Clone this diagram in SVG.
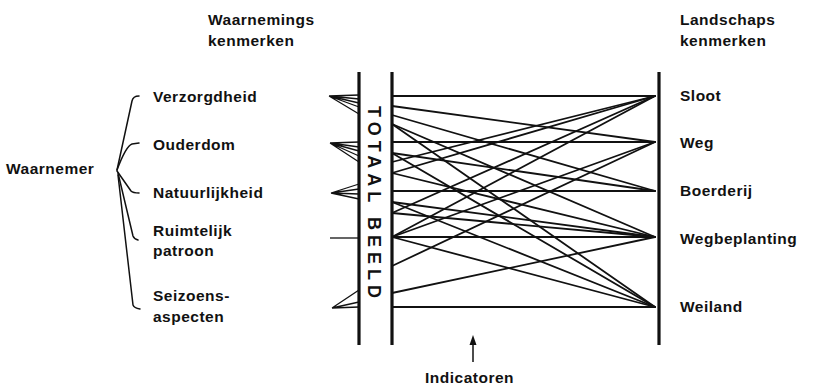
<svg xmlns="http://www.w3.org/2000/svg" width="814" height="387" viewBox="0 0 814 387">
<defs>
<style>
.t{font-family:"Liberation Sans",Arial,sans-serif;font-size:15.5px;font-weight:bold;fill:#111;letter-spacing:0.5px}
.bar{stroke:#111;stroke-width:3.2;fill:none}
.ln{stroke:#111;stroke-width:1.8;fill:none;stroke-linecap:round}
.fan{stroke:#111;stroke-width:1.3;fill:none}
.br{stroke:#111;stroke-width:1.5;fill:none;stroke-linecap:round;stroke-linejoin:round}
</style>
</defs>
<rect width="814" height="387" fill="#fff"/>

<g id="headers">
<text class="t" x="208" y="25">Waarnemings</text>
<text class="t" x="208" y="46">kenmerken</text>
<text class="t" x="680" y="25">Landschaps</text>
<text class="t" x="680" y="46">kenmerken</text>
</g>

<g id="waarnemer">
<text class="t" x="6" y="174">Waarnemer</text>
<path class="br" d="M117,170 L132,101 Q133,96 139,96"/>
<path class="br" d="M117,170 Q126,146 132,144 L139,143"/>
<path class="br" d="M117,171 L131,191 Q133,193 139,193"/>
<path class="br" d="M118,173 L133,236 Q134,239 138,240"/>
<path class="br" d="M118,175 L133,305 Q134,308 140,309"/>
</g>

<g id="verzorgdheid"><text class="t" x="153" y="102">Verzorgdheid</text></g>
<g id="ouderdom"><text class="t" x="153" y="150">Ouderdom</text></g>
<g id="natuurlijkheid"><text class="t" x="153" y="198">Natuurlijkheid</text></g>
<g id="ruimtelijk"><text class="t" x="153" y="236">Ruimtelijk</text><text class="t" x="153" y="256">patroon</text></g>
<g id="seizoens"><text class="t" x="153" y="301">Seizoens-</text><text class="t" x="153" y="322">aspecten</text></g>

<g id="totaal-beeld">
<line class="bar" x1="359" y1="72" x2="359" y2="345"/>
<line class="bar" x1="392" y1="72" x2="392" y2="345"/>
<text transform="translate(368,106) rotate(90)" x="0" y="0" textLength="192" lengthAdjust="spacing" style="font-family:'Liberation Sans',Arial,sans-serif;font-size:18px;font-weight:bold;fill:#111">TOTAAL BEELD</text>
</g>

<g id="landschap">
<line class="bar" x1="659" y1="72" x2="659" y2="345"/>
<text class="t" x="680" y="101">Sloot</text>
<text class="t" x="680" y="148">Weg</text>
<text class="t" x="680" y="196">Boerderij</text>
<text class="t" x="680" y="244">Wegbeplanting</text>
<text class="t" x="680" y="312">Weiland</text>
</g>

<g id="indicatoren">
<line x1="473" y1="362" x2="473" y2="342" stroke="#111" stroke-width="1.5"/>
<polygon points="469.5,345 473,335 476.5,345" fill="#111"/>
<text class="t" x="425" y="383">Indicatoren</text>
</g>

<g id="connectors">
<g class="fan">
<path d="M329,96 L359,95 M329,96 L359,99 M329,96 L359,103 M329,96 L359,107 M329,96 L359,114"/>
<path d="M330,143 L359,142 M330,143 L359,147 M330,143 L359,151 M330,143 L359,156 M330,143 L359,162"/>
<path d="M331,193 L359,184 M331,193 L359,189 M331,193 L359,194 M331,193 L359,199"/>
<path d="M330,238 L359,238"/>
<path d="M332,308 L359,290 M332,308 L359,302 M332,308 L359,307"/>
</g>
<g class="ln">
<path d="M392,96 L655,96 M392,142 L655,142 M392,191 L655,191 M392,237 L655,237 M392,307 L655,307"/>
<path d="M392,106 L655,142"/>
<path d="M392,115 L655,191"/>
<path d="M392,124 L655,237"/>
<path d="M392,124 L655,307"/>
<path d="M392,153 L655,191"/>
<path d="M392,153 L655,307"/>
<path d="M392,162 L655,96"/>
<path d="M392,173 L655,237"/>
<path d="M392,173 L655,96"/>
<path d="M392,202 L655,237"/>
<path d="M392,202 L655,307"/>
<path d="M392,213 L655,96"/>
<path d="M392,213 L655,237"/>
<path d="M392,237 L655,96"/>
<path d="M392,237 L655,142"/>
<path d="M392,237 L655,307"/>
<path d="M392,266 L655,142"/>
<path d="M392,293 L655,237"/>
</g>
</g>
</svg>
